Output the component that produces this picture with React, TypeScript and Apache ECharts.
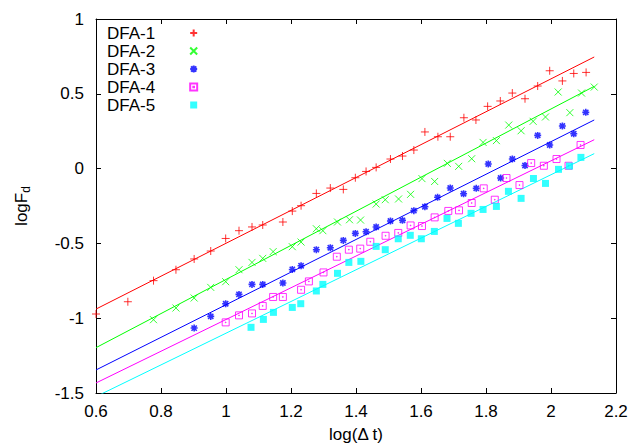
import React, { useEffect, useRef } from "react";
import * as echarts from "echarts";

const legendNames = ["DFA-1", "DFA-2", "DFA-3", "DFA-4", "DFA-5"];
const colors = ["#ff0000", "#00ff00", "#0000ff", "#ff00ff", "#00ffff"];

const xTicks = { min: 0.6, max: 2.2, interval: 0.2 };
const yTicks = { min: -1.5, max: 1, interval: 0.5 };

const dfa1: [number, number][] = [
  [0.6, -0.972], [0.698, -0.89], [0.777, -0.749], [0.846, -0.676], [0.902, -0.604],
  [0.953, -0.551], [0.999, -0.467], [1.04, -0.415], [1.08, -0.39], [1.113, -0.377],
  [1.175, -0.357], [1.204, -0.284], [1.231, -0.248], [1.278, -0.166], [1.321, -0.13],
  [1.361, -0.139], [1.398, -0.061], [1.431, -0.019], [1.462, 0.008], [1.506, 0.064],
  [1.543, 0.084], [1.578, 0.124], [1.612, 0.245], [1.652, 0.213], [1.69, 0.213],
  [1.732, 0.34], [1.769, 0.325], [1.805, 0.416], [1.844, 0.452], [1.881, 0.505],
  [1.92, 0.467], [1.959, 0.552], [1.996, 0.654], [2.035, 0.586], [2.07, 0.636],
  [2.108, 0.643],
];

const dfa2: [number, number][] = [
  [0.777, -1.01], [0.846, -0.932], [0.902, -0.865], [0.953, -0.794], [0.999, -0.756],
  [1.04, -0.676], [1.08, -0.627], [1.113, -0.6], [1.145, -0.555], [1.204, -0.522],
  [1.231, -0.491], [1.278, -0.402], [1.298, -0.415], [1.343, -0.357], [1.38, -0.342],
  [1.414, -0.344], [1.462, -0.237], [1.49, -0.208], [1.531, -0.203], [1.568, -0.172],
  [1.603, -0.067], [1.642, -0.086], [1.681, 0.035], [1.716, 0.015], [1.756, 0.066],
  [1.791, 0.175], [1.832, 0.187], [1.87, 0.291], [1.908, 0.253], [1.945, 0.316],
  [1.983, 0.345], [2.022, 0.512], [2.058, 0.374], [2.094, 0.505], [2.133, 0.545],
];

const dfa3: [number, number][] = [
  [0.902, -1.066], [0.953, -0.988], [0.999, -0.903], [1.04, -0.841], [1.08, -0.774],
  [1.113, -0.774], [1.175, -0.765], [1.204, -0.674], [1.231, -0.649], [1.278, -0.542],
  [1.321, -0.529], [1.361, -0.48], [1.398, -0.433], [1.431, -0.422], [1.462, -0.39],
  [1.506, -0.35], [1.543, -0.346], [1.578, -0.281], [1.612, -0.255], [1.651, -0.192],
  [1.69, -0.13], [1.731, -0.168], [1.77, -0.132], [1.807, 0.031], [1.845, -0.063],
  [1.881, 0.064], [1.92, 0.021], [1.959, 0.222], [1.996, 0.158], [2.035, 0.285],
  [2.07, 0.233], [2.107, 0.376],
];

const dfa4: [number, number][] = [
  [0.999, -1.028], [1.04, -0.981], [1.08, -0.968], [1.113, -0.918], [1.145, -0.858],
  [1.175, -0.858], [1.231, -0.81], [1.255, -0.754], [1.3, -0.694], [1.341, -0.589],
  [1.378, -0.542], [1.413, -0.535], [1.444, -0.489], [1.491, -0.449], [1.53, -0.43],
  [1.568, -0.38], [1.603, -0.384], [1.642, -0.326], [1.684, -0.283], [1.717, -0.279],
  [1.756, -0.23], [1.793, -0.132], [1.827, -0.208], [1.863, -0.063], [1.903, -0.11],
  [1.939, 0.037], [1.978, 0.019], [2.017, 0.064], [2.054, 0.019], [2.091, 0.158],
];

const dfa5: [number, number][] = [
  [1.077, -1.061], [1.115, -1.008], [1.146, -0.961], [1.204, -0.928], [1.23, -0.903],
  [1.278, -0.818], [1.298, -0.774], [1.343, -0.7], [1.378, -0.627], [1.415, -0.62],
  [1.462, -0.52], [1.49, -0.542], [1.53, -0.469], [1.567, -0.446], [1.601, -0.469],
  [1.641, -0.42], [1.68, -0.333], [1.715, -0.366], [1.754, -0.299], [1.791, -0.273],
  [1.832, -0.253], [1.869, -0.152], [1.908, -0.199], [1.946, -0.066], [1.983, -0.099],
  [2.023, -0.005], [2.057, 0.017], [2.092, 0.075],
];

const fitX = [0.6, 2.133];
const fit1 = [-0.939, 0.746];
const fit2 = [-1.197, 0.55];
const fit3 = [-1.346, 0.325];
const fit4 = [-1.433, 0.193];
const fit5 = [-1.524, 0.1];

const FONT = "'Liberation Sans', Arial, sans-serif";

const symbols = [
  "path://M0,4H8M4,0V8",
  "path://M0,0L8,8M8,0L0,8",
  "path://M0,4H8M4,0V8M1,1L7,7M7,1L1,7M2,4H6M4,2V6",
  "path://M0,0H8V8H0ZM3.6,3.6H4.4V4.4H3.6Z",
  "rect",
];
const sizes = [8, 7, 7, 7, 7];
const widths = [1, 1, 1.6, 1, 0];

export default function App() {
  const ref = useRef<HTMLDivElement>(null);
  useEffect(() => {
    if (!ref.current) return;
    const chart = echarts.init(ref.current, null, { renderer: "svg" });
    const pointSets = [dfa1, dfa2, dfa3, dfa4, dfa5];
    const fits = [fit1, fit2, fit3, fit4, fit5];

    const scatterSeries = pointSets.map((pts, i) => {
      const filled = i === 4;
      return {
        type: "scatter",
        name: legendNames[i],
        data: pts,
        symbol: symbols[i],
        symbolSize: sizes[i],
        clip: false,
        itemStyle: filled
          ? { color: colors[i] }
          : { color: "rgba(0,0,0,0)", borderColor: colors[i], borderWidth: widths[i] },
        z: 3,
      };
    });

    const lineSeries = fits.map((f, i) => ({
      type: "line",
      name: "fit" + (i + 1),
      data: fitX.map((x, j) => [x, f[j]]),
      showSymbol: false,
      symbol: "none",
      lineStyle: { color: colors[i], width: 1 },
      itemStyle: { color: colors[i] },
      z: 2,
    }));

    const axisCommon = {
      type: "value",
      axisLine: { show: true, onZero: false, lineStyle: { color: "#000", width: 1 } },
      axisTick: { show: true, inside: true, length: 5, lineStyle: { color: "#000" } },
      splitLine: { show: false },
    };

    chart.setOption({
      animation: false,
      textStyle: { fontFamily: FONT },
      grid: {
        left: 96,
        right: 16,
        top: 19,
        bottom: 53,
        containLabel: false,
        outerBoundsMode: "none",
      },
      legend: {
        data: legendNames,
        orient: "vertical",
        left: 107,
        top: 24,
        padding: 0,
        itemGap: 0,
        itemWidth: 7,
        itemHeight: 7,
        align: "right",
        selectedMode: false,
        textStyle: {
          fontFamily: FONT,
          fontSize: 17,
          color: "#000",
          lineHeight: 18,
          padding: [0, 30, 0, 0],
        },
      },
      xAxis: [
        {
          ...axisCommon,
          position: "bottom",
          min: xTicks.min,
          max: xTicks.max,
          interval: xTicks.interval,
          axisLabel: { color: "#000", fontSize: 17, fontFamily: FONT, margin: 10 },
          name: "log(Δ t)",
          nameLocation: "middle",
          nameGap: 33,
          nameTextStyle: { color: "#000", fontSize: 17, fontFamily: FONT },
        },
        {
          ...axisCommon,
          position: "top",
          min: xTicks.min,
          max: xTicks.max,
          interval: xTicks.interval,
          axisLabel: { show: false },
        },
      ],
      yAxis: [
        {
          ...axisCommon,
          position: "left",
          min: yTicks.min,
          max: yTicks.max,
          interval: yTicks.interval,
          axisLabel: { color: "#000", fontSize: 17, fontFamily: FONT, margin: 12 },
          name: "{a|logF}{b|d}",
          nameLocation: "middle",
          nameGap: 64,
          nameRotate: 90,
          nameTextStyle: {
            color: "#000",
            fontFamily: FONT,
            rich: {
              a: { fontSize: 17, fontFamily: FONT, color: "#000", lineHeight: 22 },
              b: {
                fontSize: 12,
                fontFamily: FONT,
                color: "#000",
                lineHeight: 12,
                verticalAlign: "bottom",
              },
            },
          },
        },
        {
          ...axisCommon,
          position: "right",
          min: yTicks.min,
          max: yTicks.max,
          interval: yTicks.interval,
          axisLabel: { show: false },
        },
      ],
      series: [...lineSeries, ...scatterSeries],
    });
    return () => chart.dispose();
  }, []);

  return (
    <div
      ref={ref}
      style={{ position: "fixed", left: 0, top: 0, width: 632, height: 446, background: "#fff" }}
    />
  );
}
